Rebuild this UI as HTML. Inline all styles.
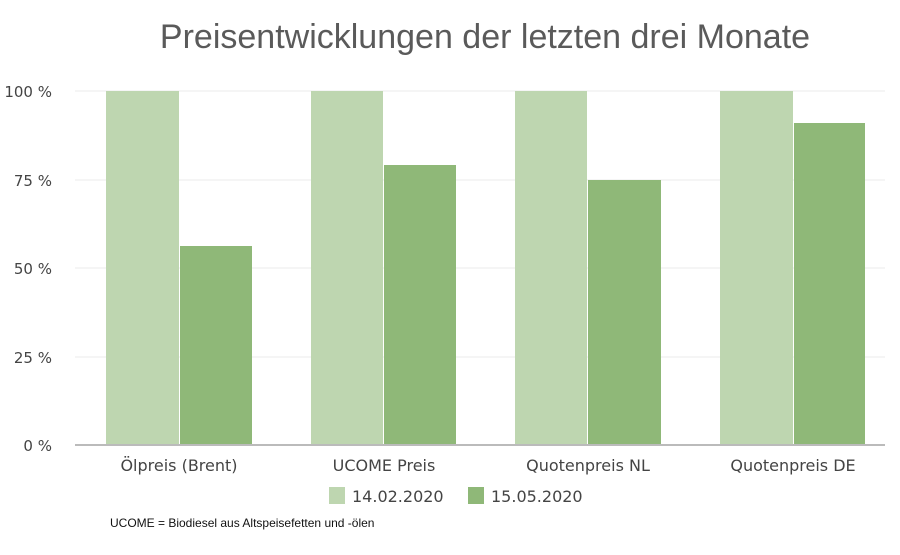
<!DOCTYPE html>
<html><head><meta charset="utf-8"><style>
body{margin:0;background:#fff;}
svg text{font-family:"Liberation Sans",sans-serif;}
.d{font-family:"DejaVu Sans",sans-serif !important;}
</style></head><body>
<svg width="900" height="550" xmlns="http://www.w3.org/2000/svg">
<text x="485" y="48" text-anchor="middle" font-size="34" fill="#5a5a5a">Preisentwicklungen der letzten drei Monate</text>
<g stroke="#ebebeb" stroke-width="1">
<line x1="75" y1="91" x2="885" y2="91"/><line x1="75" y1="180" x2="885" y2="180"/>
<line x1="75" y1="268" x2="885" y2="268"/><line x1="75" y1="357" x2="885" y2="357"/>
</g>
<g font-size="15" fill="#444" text-anchor="end" class="d">
<text class="d" x="52" y="97">100 %</text><text class="d" x="52" y="186">75 %</text><text class="d" x="52" y="274">50 %</text>
<text class="d" x="52" y="363">25 %</text><text class="d" x="52" y="451">0 %</text>
</g>
<g fill="#bed6b0">
<rect x="106" y="91" width="73" height="354"/><rect x="311" y="91" width="72" height="354"/>
<rect x="515" y="91" width="72" height="354"/><rect x="720" y="91" width="73" height="354"/>
</g>
<g fill="#8fb878">
<rect x="180" y="246" width="72" height="199"/><rect x="384" y="165" width="72" height="280"/>
<rect x="588" y="180" width="73" height="265"/><rect x="794" y="123" width="71" height="322"/>
</g>
<line x1="75" y1="445" x2="885" y2="445" stroke="#bbb" stroke-width="2"/>
<g font-size="16" fill="#444" text-anchor="middle">
<text class="d" x="179" y="471">Ölpreis (Brent)</text><text class="d" x="384" y="471">UCOME Preis</text>
<text class="d" x="588" y="471">Quotenpreis NL</text><text class="d" x="793" y="471">Quotenpreis DE</text>
</g>
<rect x="329" y="487" width="16" height="17" fill="#bed6b0"/>
<text class="d" x="352" y="502" font-size="16" fill="#444">14.02.2020</text>
<rect x="468" y="487" width="16" height="17" fill="#8fb878"/>
<text class="d" x="491" y="502" font-size="16" fill="#444">15.05.2020</text>
<text x="110" y="527" font-size="12" fill="#111">UCOME = Biodiesel aus Altspeisefetten und -ölen</text>
</svg>
</body></html>
